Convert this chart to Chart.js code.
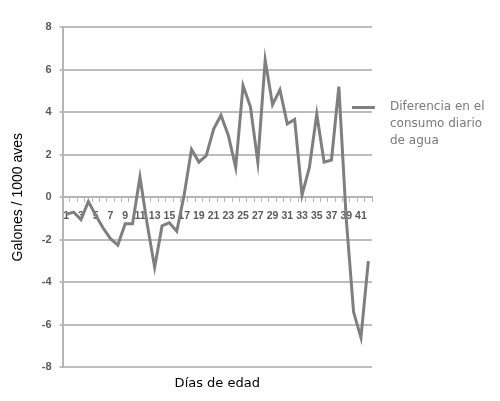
<!DOCTYPE html>
<html>
<head>
<meta charset="utf-8">
<script src="https://cdn.jsdelivr.net/npm/chart.js@4.4.1/dist/chart.umd.min.js"></script>
<style>
  body { margin: 0; background: #fff; }
  #wrap { position: relative; width: 500px; height: 401px; }
  #legend { position: absolute; left: 352px; top: 98px; font-family: "DejaVu Sans", sans-serif;
            font-size: 12px; line-height: 17px; color: #7a7a7a; }
  #legend .swatch { position: absolute; left: 0; top: 8px; width: 23px; height: 3px; background: #7f7f7f; }
  #legend .txt { margin-left: 38px; }
</style>
</head>
<body>
<div id="wrap">
  <canvas id="chart" width="500" height="401"></canvas>
  <div id="legend"><span class="swatch"></span><div class="txt">Diferencia en el<br>consumo diario<br>de agua</div></div>
</div>
<script>
// days of age 1..42
const days = []
for (let d = 1; d <= 42; d++) days.push(String(d))

const seriesName = 'Diferencia en el consumo diario de agua'
const waterDiff = [
  -0.8, -0.7, -1.05, -0.2, -0.85, -1.45, -1.95, -2.25, -1.25, -1.25,
  0.95, -1.3, -3.3, -1.35, -1.2, -1.6, 0.1, 2.25, 1.65, 1.95,
  3.2, 3.85, 2.9, 1.4, 5.25, 4.25, 1.65, 6.45, 4.35, 5.05,
  3.45, 3.65, 0.1, 1.4, 3.9, 1.65, 1.75, 5.2, -1.0, -5.4,
  -6.6, -3.0
]
const yTicks = { min: -8, max: 8, step: 2 }

new Chart(document.getElementById('chart'), {
  type: 'line',
  data: {
    labels: days,
    datasets: [{
      label: seriesName,
      data: waterDiff,
      borderColor: '#7f7f7f',
      borderWidth: 3,
      pointRadius: 0,
      tension: 0,
      fill: false
    }]
  },
  options: {
    responsive: false,
    animation: false,
    layout: { padding: { top: 27, right: 128, left: 10, bottom: 10 } },
    plugins: { legend: { display: false }, tooltip: { enabled: false } },
    scales: {
      // axis crosses at 0, labels just under it like in excel
      x: {
        position: { y: 0 },
        offset: true,
        grid: { display: true, drawOnChartArea: false, offset: true, tickLength: 4, color: '#b5b5b5' },
        border: { display: true, color: '#b5b5b5', width: 2 },
        ticks: {
          autoSkip: false, maxRotation: 0, padding: 9,
          color: '#5a5a5a',
          font: { family: 'Liberation Sans', size: 10.5, weight: 'bold' },
          callback: (v, i) => i % 2 === 0 ? days[i] : ''
        }
      },
      // only carries the title at the bottom
      x2: {
        type: 'category',
        labels: days,
        position: 'bottom',
        grid: { display: false },
        border: { display: false },
        ticks: { display: false },
        title: { display: true, text: 'Días de edad', color: '#000', padding: { top: 0, bottom: 0 },
                 font: { family: 'DejaVu Sans', size: 13 } }
      },
      y: {
        min: yTicks.min, max: yTicks.max,
        ticks: { stepSize: yTicks.step, padding: 8, color: '#5a5a5a',
                 font: { family: 'Liberation Sans', size: 11, weight: 'bold' } },
        grid: { color: '#bdbdbd', lineWidth: 2, tickLength: 3 },
        border: { display: true, color: '#b5b5b5', width: 2 },
        title: { display: true, text: 'Galones / 1000 aves', color: '#000', padding: { top: 0, bottom: 7 },
                 font: { family: 'Liberation Sans', size: 14 } }
      }
    }
  }
})
</script>
</body>
</html>
